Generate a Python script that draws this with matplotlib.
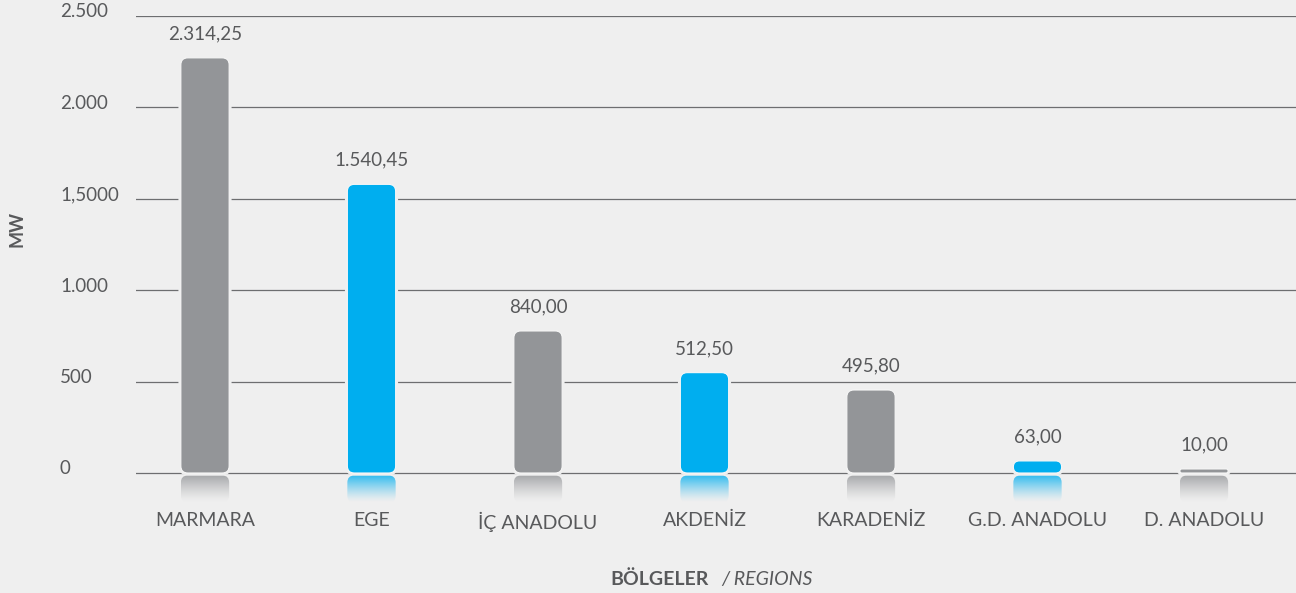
import numpy as np
import matplotlib
matplotlib.use('Agg')
import matplotlib.pyplot as plt
from matplotlib.patches import FancyBboxPatch
from matplotlib.colors import to_rgb
import matplotlib.transforms as mtransforms

plt.rcParams['font.family'] = ['Lato', 'DejaVu Sans']

# data
regions = ['MARMARA', 'EGE', 'İÇ ANADOLU', 'AKDENİZ', 'KARADENİZ', 'G.D. ANADOLU', 'D. ANADOLU']
bar_heights = [2271, 1579, 777, 549, 454, 66, 22]  # as drawn in the picture
value_labels = ['2.314,25', '1.540,45', '840,00', '512,50', '495,80', '63,00', '10,00']
bar_colors = ['#939598', '#00aeef', '#939598', '#00aeef', '#939598', '#00aeef', '#939598']
y_ticks = [0, 500, 1000, 1500, 2000, 2500]
y_tick_labels = ['0', '500', '1.000', '1,5000', '2.000', '2.500']

BG = '#efefef'
TXT = '#58595b'

W, H = 1296, 593
fig = plt.figure(figsize=(W / 100, H / 100), dpi=100)
fig.patch.set_facecolor(BG)

# axes: left 136px, right 1296px, top y=16, zero at y=473, bottom y=504
px_per_unit = 457 / 2500
y_bottom = -(504 - 473) / px_per_unit
ax = fig.add_axes([136 / W, 1 - 504 / H, (1296 - 136) / W, (504 - 16) / H])
ax.set_facecolor(BG)
x = np.arange(len(regions))
ax.set_xlim(-69 / 166.5, 6 + 92 / 166.5)
ax.set_ylim(y_bottom, 2500)
for s in ax.spines.values():
    s.set_visible(False)
ax.set_yticks([])

# gridlines
for t in y_ticks:
    ax.axhline(t, color='#6d6e70', lw=0.9, zorder=1)

bars = ax.bar(x, bar_heights, width=0.29, color=bar_colors)

x_unit_px = 166.5
aspect = (1 / px_per_unit) / (1 / x_unit_px)
refl_px = 27
grad = np.linspace(0, 1, 100)[:, None]

for b, col, lab in zip(bars, bar_colors, value_labels):
    b.set_visible(False)
    bx, bw, bh = b.get_x(), b.get_width(), b.get_height()
    r_px = min(7, bh * px_per_unit / 2)
    r = r_px / x_unit_px
    # background-coloured halo to cut the gridlines around the bar
    halo = FancyBboxPatch((bx, 0), bw, bh, boxstyle=f'round,pad=0,rounding_size={r}',
                          mutation_aspect=aspect, facecolor=col, edgecolor=BG,
                          lw=3.5, zorder=3)
    ax.add_patch(halo)
    p = FancyBboxPatch((bx, 0), bw, bh, boxstyle=f'round,pad=0,rounding_size={r}',
                       mutation_aspect=aspect, facecolor=col, edgecolor='#f7f7f7',
                       lw=0.8, zorder=3)
    ax.add_patch(p)

    # reflection below baseline
    rh = refl_px / px_per_unit
    top = -2.5 / px_per_unit
    rp = FancyBboxPatch((bx, top - rh), bw, rh,
                        boxstyle=f'round,pad=0,rounding_size={7 / x_unit_px}',
                        mutation_aspect=aspect, facecolor='none', edgecolor='none', zorder=2)
    ax.add_patch(rp)
    rgb = np.array(to_rgb(col))
    bg = np.array(to_rgb(BG))
    a = (1 - grad) ** 1.3 * 0.8
    img = bg[None, None, :] * (1 - a[:, :, None]) + rgb[None, None, :] * a[:, :, None]
    img = np.repeat(img, 2, axis=1)
    im = ax.imshow(img, extent=(bx, bx + bw, top - rh, top), origin='upper',
                   aspect='auto', zorder=2, interpolation='bilinear')
    im.set_clip_path(rp)

    ax.annotate(lab, (bx + bw / 2, bh), xytext=(0, 17.3), textcoords='offset points',
                ha='center', va='center', fontsize=13.5, color=TXT)

ax.set_aspect('auto')
ax.set_xlim(-69 / 166.5, 6 + 92 / 166.5)
ax.set_ylim(y_bottom, 2500)

# category labels
ax.set_xticks(x)
ax.set_xticklabels(regions, fontsize=14, color=TXT)
ax.tick_params(axis='x', length=0, pad=6)

# y tick labels, left aligned
tr = mtransforms.blended_transform_factory(fig.transFigure, ax.transData)
for t, lab in zip(y_ticks, y_tick_labels):
    ax.text(60 / W, t + 4 / px_per_unit, lab, transform=tr, ha='left', va='center',
            fontsize=13.5, color=TXT, clip_on=False)

fig.text(17 / W, 1 - 229 / H, 'MW', rotation=90, ha='center', va='center',
         fontsize=13, fontweight='bold', color=TXT)
fig.text(709 / W, 1 - 579 / H, 'BÖLGELER', ha='right', va='center',
         fontsize=14, fontweight='bold', color=TXT)
fig.text(721 / W, 1 - 579 / H, '/ REGIONS', ha='left', va='center',
         fontsize=14, style='italic', color=TXT)

fig.savefig('out.png', dpi=100, facecolor=BG)
